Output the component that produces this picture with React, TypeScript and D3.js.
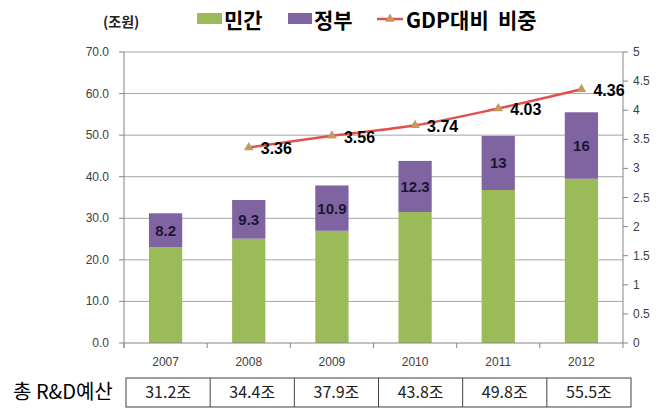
import React from "react";
import * as d3 from "d3";

const years = ["2007", "2008", "2009", "2010", "2011", "2012"];
const privateValues = [23.0, 25.1, 27.0, 31.5, 36.8, 39.5];
const govValues = [8.2, 9.3, 10.9, 12.3, 13, 16];
const govLabels = ["8.2", "9.3", "10.9", "12.3", "13", "16"];
const gdpYears = ["2008", "2009", "2010", "2011", "2012"];
const gdpRatio = [3.36, 3.56, 3.74, 4.03, 4.36];
const gdpLabels = ["3.36", "3.56", "3.74", "4.03", "4.36"];
const totalLabels = ["31.2조", "34.4조", "37.9조", "43.8조", "49.8조", "55.5조"];
const leftTicks = [0, 10, 20, 30, 40, 50, 60, 70];
const rightTicks = [0, 0.5, 1, 1.5, 2, 2.5, 3, 3.5, 4, 4.5, 5];

const W = 660;
const H = 414;
const X0 = 124;
const X1 = 623;
const Y0 = 343;
const Y1 = 52;

const GREEN = "#9BBB59";
const PURPLE = "#8064A2";
const RED = "#E0504D";
const MARK = "#C49A5C";
const GRID = "#A6A6A6";
const AXIS = "#868686";
const FONT = "Arial, 'Liberation Sans', sans-serif";
const KFONT = "'Noto Sans CJK KR', 'Noto Sans', sans-serif";

export default function App() {
  const x = d3.scaleBand<string>().domain(years).range([X0, X1]).paddingInner(0).paddingOuter(0);
  const bw = x.bandwidth() * 0.4;
  const yL = d3.scaleLinear().domain([0, 70]).range([Y0, Y1]);
  const yR = d3.scaleLinear().domain([0, 5]).range([Y0, Y1]);
  const cx = (yr: string) => (x(yr) as number) + x.bandwidth() / 2;

  const linePts: [number, number][] = gdpYears.map((yr, i) => [cx(yr), yR(gdpRatio[i])]);
  const lineGen = d3.line().curve(d3.curveCatmullRom.alpha(0.5));
  const tri = d3.symbol().type(d3.symbolTriangle).size(40)();

  const boundaries = years.map((yr) => x(yr) as number).concat([X1]);

  const tableLeft = 126;
  const tableRight = 631;
  const tableTop = 378;
  const tableBottom = 407;
  const tableX = d3.scaleBand<string>().domain(years).range([tableLeft, tableRight]);

  return (
    <svg width={W} height={H} style={{ position: "absolute", left: 0, top: 0, background: "#fff" }}>
      {leftTicks.slice(1).map((t) => (
        <line key={"g" + t} x1={X0} x2={X1} y1={yL(t)} y2={yL(t)} stroke={GRID} strokeWidth={1} />
      ))}
      {years.map((yr, i) => {
        const bx = cx(yr) - bw / 2;
        const p = privateValues[i];
        const g = govValues[i];
        return (
          <g key={"b" + yr}>
            <rect x={bx} width={bw} y={yL(p)} height={yL(0) - yL(p)} fill={GREEN} />
            <rect x={bx} width={bw} y={yL(p + g)} height={yL(p) - yL(p + g)} fill={PURPLE} />
            <text
              x={cx(yr)}
              y={(yL(p) + yL(p + g)) / 2 + 5.5}
              textAnchor="middle"
              fontFamily={FONT}
              fontWeight="bold"
              fontSize={15}
              fill="#1A1633"
            >
              {govLabels[i]}
            </text>
          </g>
        );
      })}
      <line x1={X0} x2={X0} y1={Y1} y2={Y0 + 5} stroke={AXIS} />
      <line x1={X1} x2={X1} y1={Y1} y2={Y0} stroke={AXIS} />
      <line x1={X0} x2={X1} y1={Y0} y2={Y0} stroke={AXIS} />
      {leftTicks.map((t) => (
        <g key={"lt" + t}>
          <line x1={X0 - 5} x2={X0} y1={yL(t)} y2={yL(t)} stroke={AXIS} />
          <text x={X0 - 15} y={yL(t) + 4} textAnchor="end" fontFamily={FONT} fontSize={12} fill="#404040">
            {t.toFixed(1)}
          </text>
        </g>
      ))}
      {rightTicks.map((t) => (
        <g key={"rt" + t}>
          <line x1={X1} x2={X1 + 5} y1={yR(t)} y2={yR(t)} stroke={AXIS} />
          <text x={X1 + 10} y={yR(t) + 4} textAnchor="start" fontFamily={FONT} fontSize={12} fill="#404040">
            {String(t)}
          </text>
        </g>
      ))}
      {boundaries.map((b, i) => (
        <line key={"bt" + i} x1={b} x2={b} y1={Y0} y2={Y0 + 5} stroke={AXIS} />
      ))}
      {years.map((yr) => (
        <text key={"yl" + yr} x={cx(yr)} y={366} textAnchor="middle" fontFamily={FONT} fontSize={12} fill="#404040">
          {yr}
        </text>
      ))}
      <path d={lineGen(linePts) || ""} fill="none" stroke={RED} strokeWidth={2.5} />
      {linePts.map((pt, i) => (
        <g key={"m" + i}>
          <path d={tri || ""} transform={`translate(${pt[0]},${pt[1]})`} fill={MARK} />
          <text x={pt[0] + 12} y={pt[1] + 7} fontFamily={FONT} fontWeight="bold" fontSize={16} fill="#000">
            {gdpLabels[i]}
          </text>
        </g>
      ))}
      <text x={103} y={27} fontFamily={KFONT} fontWeight="bold" fontSize={14} fill="#222">
        (조원)
      </text>
      <rect x={197} y={13} width={25} height={11} fill={GREEN} />
      <text x={224} y={28} fontFamily={KFONT} fontWeight="bold" fontSize={21} fill="#000">
        민간
      </text>
      <rect x={288} y={13} width={24} height={11} fill={PURPLE} />
      <text x={314} y={28} fontFamily={KFONT} fontWeight="bold" fontSize={21} fill="#000">
        정부
      </text>
      <line x1={377} x2={403} y1={19} y2={19} stroke={RED} strokeWidth={2.5} />
      <path d={tri || ""} transform="translate(390,19)" fill={MARK} />
      <text x={406} y={28} fontFamily={KFONT} fontWeight="bold" fontSize={21} fill="#000">
        GDP대비
      </text>
      <text x={498} y={28} fontFamily={KFONT} fontWeight="bold" fontSize={21} fill="#000">
        비중
      </text>
      <text x={13} y={399} fontFamily={KFONT} fontSize={20} fill="#000">
        총 R&amp;D예산
      </text>
      <rect x={tableLeft} y={tableTop} width={tableRight - tableLeft} height={tableBottom - tableTop} fill="none" stroke="#404040" />
      {years.slice(1).map((yr) => (
        <line key={"td" + yr} x1={tableX(yr) as number} x2={tableX(yr) as number} y1={tableTop} y2={tableBottom} stroke="#404040" />
      ))}
      {years.map((yr, i) => (
        <text
          key={"tv" + yr}
          x={(tableX(yr) as number) + tableX.bandwidth() / 2}
          y={398}
          textAnchor="middle"
          fontFamily={KFONT}
          fontSize={16}
          fill="#222"
        >
          {totalLabels[i]}
        </text>
      ))}
    </svg>
  );
}
